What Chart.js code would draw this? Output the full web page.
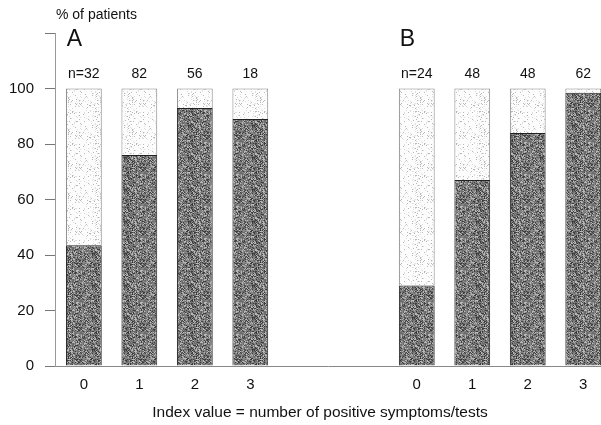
<!DOCTYPE html>
<html><head><meta charset="utf-8">
<script src="https://cdn.jsdelivr.net/npm/chart.js@4.4.1/dist/chart.umd.min.js"></script>
<style>html,body{margin:0;padding:0;background:#fff}#wrap{width:601px;height:425px}</style>
</head><body><div id="wrap"><canvas id="c" width="601" height="425"></canvas></div>
<script>
// Data
const categoriesA = ["0","1","2","3"];
const categoriesB = ["0","1","2","3"];
const positionsA = [0,1,2,3];
const positionsB = [6,7,8,9];
const darkA = [43.5, 76, 93, 89];
const lightA = [56.5, 24, 7, 11];
const darkB = [29, 67, 84, 98.5];
const lightB = [71, 33, 16, 1.5];
const nLabelsA = ["n=32","82","56","18"];
const nLabelsB = ["n=24","48","48","62"];
const panelLabels = ["A","B"];
const yTicks = [0,20,40,60,80,100,120];
const yTitle = "% of patients";
const xTitle = "Index value = number of positive symptoms/tests";

// stipple texture (deterministic hash, styling only)
function hash(x,y){ let h = (x*374761393 + y*668265263) >>> 0; h = ((h ^ (h>>>13)) * 1274126177) >>> 0; return (h ^ (h>>>16)) & 255; }
function makePattern(levels){
  const N = 32;
  const cv = document.createElement('canvas');
  cv.width = N; cv.height = N;
  const g = cv.getContext('2d');
  for(let y=0;y<N;y++){for(let x=0;x<N;x++){
    const h = hash(x,y);
    let col = levels[levels.length-1][1];
    for(const [t,cc] of levels){ if(h < t){ col = cc; break; } }
    g.fillStyle = col; g.fillRect(x,y,1,1);
  }}
  return g.createPattern(cv,'repeat');
}
const ctx0 = document.getElementById('c').getContext('2d');
const darkFill = makePattern([[50,'#3c3c3c'],[130,'#6c6c6c'],[205,'#878787'],[256,'#b8b8b8']]);
const lightFill = makePattern([[16,'#b8b8b8'],[34,'#dedede'],[256,'#fcfcfc']]);

const toPts = (pos, vals) => pos.map((p,i)=>({x:p, y:vals[i]}));
const FONT = '"Liberation Sans", Arial, sans-serif';

const textPlugin = {
  id:'texts',
  afterDraw(chart){
    const c = chart.ctx, xs = chart.scales.x, ys = chart.scales.y;
    c.save();
    c.fillStyle = '#111';
    c.textBaseline = 'middle';
    c.font = '14px ' + FONT;
    c.textAlign = 'left';
    c.fillText(yTitle, 56, 15);
    c.font = '23px ' + FONT;
    c.fillText(panelLabels[0], xs.getPixelForValue(positionsA[0]) - 17, 40);
    c.fillText(panelLabels[1], xs.getPixelForValue(positionsB[0]) - 17, 40);
    c.font = '14px ' + FONT;
    c.textAlign = 'center';
    positionsA.forEach((p,i)=>c.fillText(nLabelsA[i], xs.getPixelForValue(p), ys.getPixelForValue(105)));
    positionsB.forEach((p,i)=>c.fillText(nLabelsB[i], xs.getPixelForValue(p), ys.getPixelForValue(105)));
    c.font = '15.5px ' + FONT;
    c.fillText(xTitle, 320, 413);
    c.restore();
  }
};

const ds = (pos, vals, fill, border) => ({data:toPts(pos,vals), backgroundColor:fill, borderColor:border,
  borderWidth:{left:1,right:1,top:1,bottom:0}, stack:'s', barPercentage:0.645, categoryPercentage:1});

new Chart(ctx0, {
  type:'bar',
  data:{ datasets:[
    ds(positionsA, darkA, darkFill, '#222'),
    ds(positionsA, lightA, lightFill, '#888'),
    ds(positionsB, darkB, darkFill, '#222'),
    ds(positionsB, lightB, lightFill, '#888')
  ]},
  options:{
    responsive:false, animation:false,
    layout:{padding:{top:33,left:0,right:0,bottom:0}},
    plugins:{legend:{display:false}, tooltip:{enabled:false}},
    scales:{
      x:{type:'linear', stacked:true, min:-0.52, max:9.32, offset:false,
        grid:{display:false, drawTicks:false},
        border:{display:true, color:'#888', width:1},
        afterBuildTicks(s){ s.ticks = positionsA.concat(positionsB).map(v=>({value:v})); },
        ticks:{padding:10, color:'#111', font:{size:15, family:FONT},
          callback(v){ let i = positionsA.indexOf(v); if(i>=0) return categoriesA[i]; i = positionsB.indexOf(v); if(i>=0) return categoriesB[i]; return ''; }},
        afterFit(s){ s.height = 59; }
      },
      y:{stacked:true, min:0, max:120,
        grid:{display:true, drawOnChartArea:false, drawTicks:true, tickLength:10, color:'#777'},
        border:{display:true, color:'#999', width:1},
        afterBuildTicks(s){ s.ticks = yTicks.map(v=>({value:v})); },
        ticks:{padding:11, color:'#111', font:{size:15, family:FONT},
          callback(v){ return v===120 ? '' : String(v); }},
        afterFit(s){ s.width = 55; }
      }
    }
  },
  plugins:[textPlugin]
});
</script></body></html>
